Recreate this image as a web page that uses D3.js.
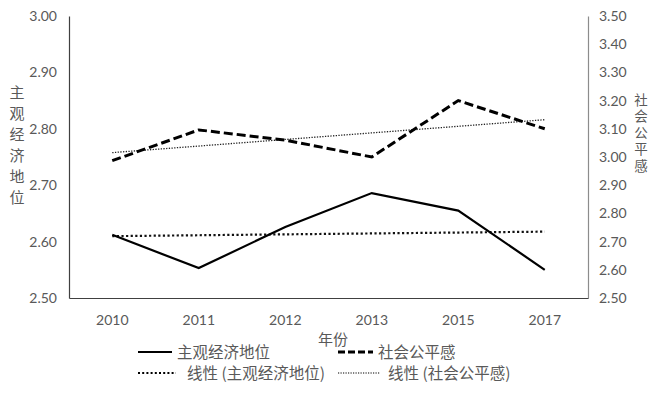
<!DOCTYPE html>
<html lang="zh">
<head>
<meta charset="utf-8">
<title>主观经济地位与社会公平感</title>
<script src="https://d3js.org/d3.v7.min.js"></script>
<style>
  body { margin: 0; background: #fff; }
  text { font-family: Lato, "Noto Sans CJK SC", sans-serif; fill: #595959; }
  .cjk { font-family: "Noto Sans CJK SC", sans-serif; }
  .vert { writing-mode: vertical-rl; }
</style>
</head>
<body>
<div id="chart"></div>
<script>
"use strict"

// data
var years = ["2010", "2011", "2012", "2013", "2015", "2017"];
var statusVals = [2.612, 2.553, 2.626, 2.686, 2.655, 2.550];   // 主观经济地位 (left axis)
var fairVals = [2.987, 3.096, 3.060, 3.000, 3.200, 3.100];     // 社会公平感 (right axis)
var leftTicks = [2.5, 2.6, 2.7, 2.8, 2.9, 3.0];
var rightTicks = [2.5, 2.6, 2.7, 2.8, 2.9, 3.0, 3.1, 3.2, 3.3, 3.4, 3.5];

var W = 663, H = 397;
var plot = {left: 69, right: 588, top: 16, bottom: 298};

var svg = d3.select("#chart").append("svg")
    .attr("width", W).attr("height", H);

var x = d3.scaleBand().domain(years).range([plot.left, plot.right]);
var yL = d3.scaleLinear().domain([2.5, 3.0]).range([plot.bottom, plot.top]);
var yR = d3.scaleLinear().domain([2.5, 3.5]).range([plot.bottom, plot.top]);
var cx = d => x(d) + x.bandwidth() / 2;

// linear trend (least squares on index 1..n, like the spreadsheet)
function trend(vals) {
  var n = vals.length, xs = d3.range(1, n + 1);
  var mx = d3.mean(xs), my = d3.mean(vals);
  var num = d3.sum(xs, (v, i) => (v - mx) * (vals[i] - my));
  var den = d3.sum(xs, v => (v - mx) * (v - mx));
  var b = num / den, a = my - b * mx;
  return xs.map(v => a + b * v);
}

// axes
var axL = svg.append("g").attr("transform", "translate(" + plot.left + ",0)")
    .call(d3.axisLeft(yL).tickValues(leftTicks).tickFormat(d3.format(".2f")).tickSize(0).tickPadding(12));
var axR = svg.append("g").attr("transform", "translate(" + plot.right + ",0)")
    .call(d3.axisRight(yR).tickValues(rightTicks).tickFormat(d3.format(".2f")).tickSize(0).tickPadding(11));
var axB = svg.append("g").attr("transform", "translate(0," + plot.bottom + ")")
    .call(d3.axisBottom(x).tickSize(0).tickPadding(17));

axL.select(".domain").attr("stroke", "#404040").attr("stroke-width", 1.2);
axR.select(".domain").attr("stroke", "#8c8c8c").attr("stroke-width", 1.2);
axB.select(".domain").attr("stroke", "#404040").attr("stroke-width", 1.2);
svg.selectAll(".tick text").style("font-size", "14px").attr("fill", "#595959")
    .style("font-family", "Lato, sans-serif");

// lines
var lineL = d3.line().x((d, i) => cx(years[i])).y(d => yL(d));
var lineR = d3.line().x((d, i) => cx(years[i])).y(d => yR(d));

svg.append("path").datum(trend(statusVals)).attr("d", lineL)
    .attr("fill", "none").attr("stroke", "#111").attr("stroke-width", 2.2)
    .attr("stroke-dasharray", "2.2 2.4");
svg.append("path").datum(trend(fairVals)).attr("d", lineR)
    .attr("fill", "none").attr("stroke", "#222").attr("stroke-width", 1.3)
    .attr("stroke-dasharray", "1.3 1.4");
svg.append("path").datum(statusVals).attr("d", lineL)
    .attr("fill", "none").attr("stroke", "#000").attr("stroke-width", 2.2);
svg.append("path").datum(fairVals).attr("d", lineR)
    .attr("fill", "none").attr("stroke", "#000").attr("stroke-width", 3)
    .attr("stroke-dasharray", "9 4");

// axis titles, stacked vertically
svg.append("text").attr("class", "cjk vert")
    .attr("x", 17).attr("y", 85)
    .style("font-size", "15px").style("letter-spacing", "6px")
    .text("主观经济地位");
svg.append("text").attr("class", "cjk vert")
    .attr("x", 641).attr("y", 93)
    .style("font-size", "13.5px").style("letter-spacing", "3px")
    .text("社会公平感");
svg.append("text").attr("class", "cjk").attr("x", 333).attr("y", 345)
    .attr("text-anchor", "middle").style("font-size", "15px").attr("fill", "#666").text("年份");

// legend
var legend = [
  {label: "主观经济地位", x: 138, y: 352, w: 34, sw: 2.2, dash: null},
  {label: "社会公平感", x: 338, y: 352, w: 35, sw: 3, dash: "7 3"},
  {label: "线性 (主观经济地位)", x: 138, y: 373, w: 38, sw: 2, dash: "2 2.2", gap: 11},
  {label: "线性 (社会公平感)", x: 338, y: 373, w: 42, sw: 1.2, dash: "1.2 1.3", gap: 8}
];
var lg = svg.append("g").selectAll("g").data(legend).join("g");
lg.append("line")
    .attr("x1", d => d.x).attr("x2", d => d.x + d.w)
    .attr("y1", d => d.y).attr("y2", d => d.y)
    .attr("stroke", "#000").attr("stroke-width", d => d.sw)
    .attr("stroke-dasharray", d => d.dash);
lg.append("text").attr("class", "cjk")
    .attr("x", d => d.x + d.w + (d.gap || 5)).attr("y", d => d.y + 5.5)
    .attr("fill", "#7f7f7f")
    .style("font-size", "15.5px").text(d => d.label);
</script>
</body>
</html>
